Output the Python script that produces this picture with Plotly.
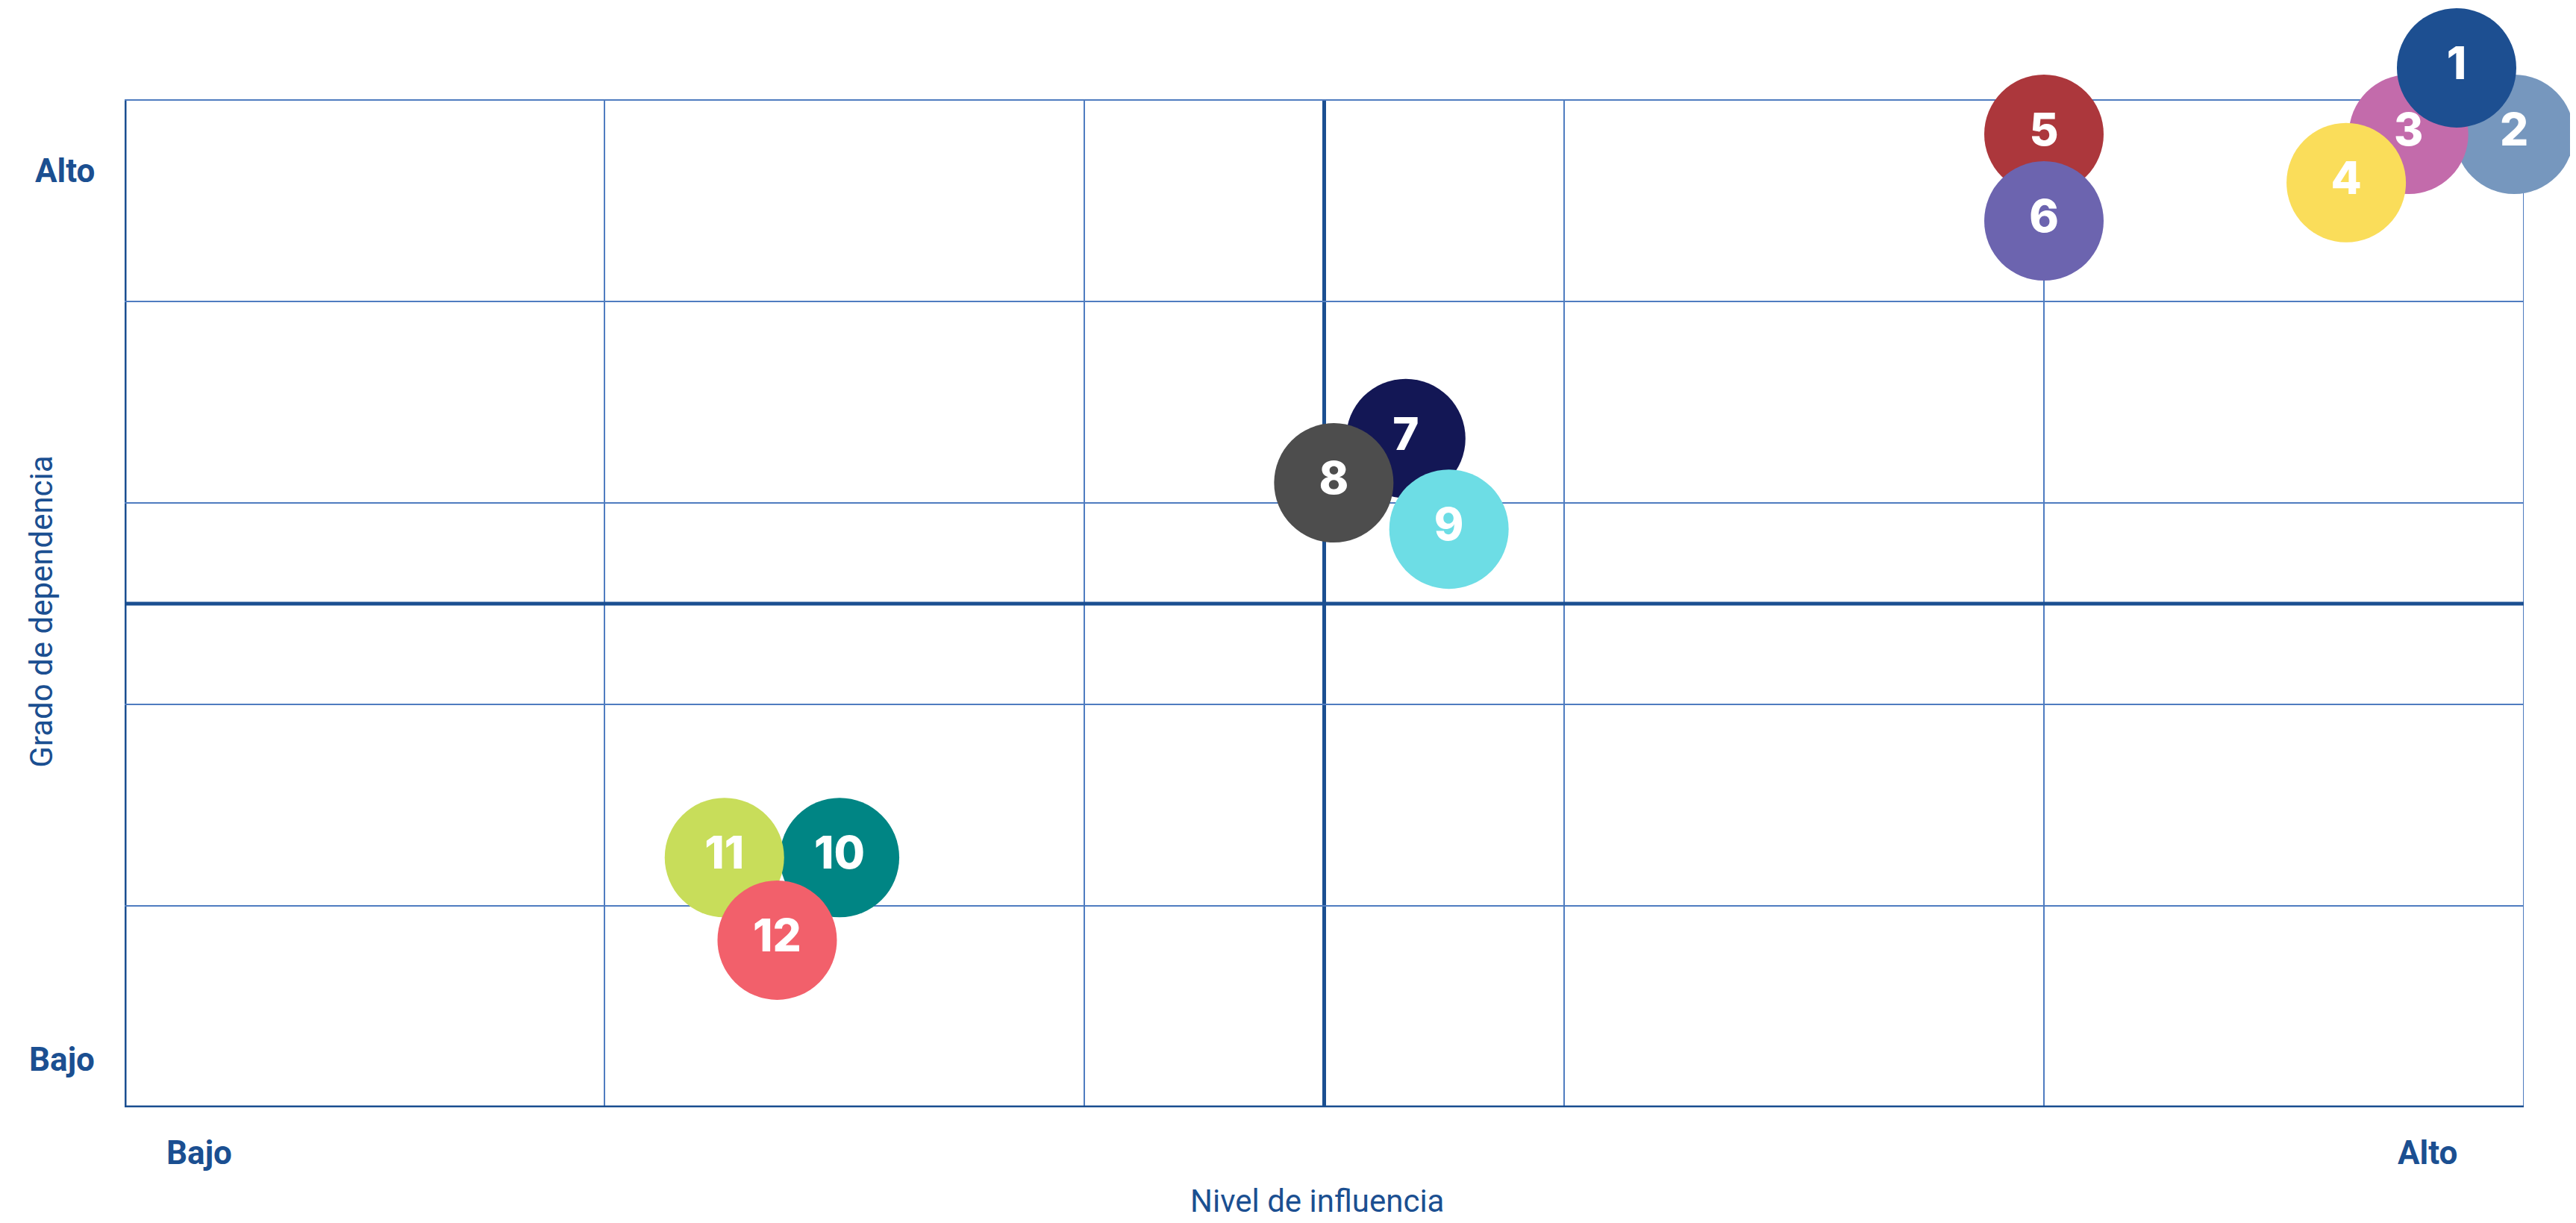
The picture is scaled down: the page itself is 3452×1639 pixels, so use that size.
import plotly.graph_objects as go

# Data
ids = ["1", "2", "3", "4", "5", "6", "7", "8", "9", "10", "11", "12"]
influence = [4.86, 4.98, 4.76, 4.63, 4.00, 4.00, 2.67, 2.52, 2.76, 1.49, 1.25, 1.36]
dependence = [5.16, 4.83, 4.83, 4.59, 4.83, 4.40, 3.32, 3.10, 2.87, 1.24, 1.24, 0.83]
colors = ["#1D4F91", "#7697BE", "#C36BAB", "#FADD5A", "#AC373C", "#6C64AF",
          "#131755", "#4D4D4D", "#6DDDE5", "#008584", "#C8DD5A", "#F2606B"]
draw_order = [1, 2, 3, 0, 4, 5, 6, 7, 8, 9, 10, 11]

grid_vals = [1, 2, 3, 4, 5]
quadrant_mid = 2.5
x_tick_vals = [0.156, 4.80]
y_tick_vals = [0.236, 4.65]
tick_labels = ["Bajo", "Alto"]
x_title = "Nivel de influencia"
y_title = "Grado de dependencia"

BLUE = "#1B4F91"
GRID = "#4F7CC0"

fig = go.Figure()
for i in draw_order:
    fig.add_trace(go.Scatter(
        x=[influence[i]], y=[dependence[i]], mode="markers+text",
        text=[ids[i]], textposition="middle center",
        textfont=dict(family="Inter", size=60, color="white", weight=800),
        marker=dict(size=160, color=colors[i], line=dict(width=0), opacity=1),
        cliponaxis=False, showlegend=False, hoverinfo="skip"))

shapes = []
# vertical grid lines, stopping at the top grid line (y = 5)
for v in grid_vals:
    shapes.append(dict(type="line", xref="x", yref="y", x0=v, x1=v, y0=0, y1=5,
                       layer="below", line=dict(color=GRID, width=2)))
shapes += [
    dict(type="line", xref="x", yref="y", x0=0, x1=0, y0=0, y1=5, layer="below",
         line=dict(color=BLUE, width=5)),
    dict(type="line", xref="x", yref="y", x0=0, x1=5, y0=0, y1=0, layer="below",
         line=dict(color=BLUE, width=5)),
    dict(type="line", xref="x", yref="y", x0=quadrant_mid, x1=quadrant_mid, y0=0, y1=5,
         layer="below", line=dict(color=BLUE, width=5)),
    dict(type="line", xref="x", yref="y", x0=0, x1=5, y0=quadrant_mid, y1=quadrant_mid,
         layer="below", line=dict(color=BLUE, width=5)),
]

ann = []
lab_font = dict(family="Roboto", size=44, color=BLUE, weight=700)
for v, t in zip(y_tick_vals, tick_labels):
    ann.append(dict(x=0, xref="paper", y=v, yref="y", text=t, showarrow=False,
                    xanchor="right", yanchor="middle", xshift=-38, font=lab_font))
for v, t in zip(x_tick_vals, tick_labels):
    ann.append(dict(x=v, xref="x", y=0, yref="y", text=t, showarrow=False,
                    xanchor="center", yanchor="middle", yshift=-61, font=lab_font))
ann.append(dict(x=0.497, xref="x domain", y=0, yref="y", text=x_title, showarrow=False,
                xanchor="center", yanchor="middle", yshift=-125,
                font=dict(family="Roboto", size=42, color=BLUE)))
ann.append(dict(x=0, xref="paper", y=2.46, yref="y", text=y_title, showarrow=False,
                xanchor="center", yanchor="middle", xshift=-111, textangle=-90,
                font=dict(family="Roboto", size=42, color=BLUE)))

fig.update_layout(
    width=3444, height=1631,
    margin=dict(l=159, r=70, t=0, b=155),
    paper_bgcolor="white", plot_bgcolor="white",
    xaxis=dict(range=[0, 5], showgrid=False,
               zeroline=False, showline=False, showticklabels=False, fixedrange=True),
    yaxis=dict(range=[0, 5.467], tickvals=grid_vals, showgrid=True, gridcolor=GRID, gridwidth=2,
               zeroline=False, showline=False, showticklabels=False, fixedrange=True),
    shapes=shapes, annotations=ann,
)
fig.write_html("out.html")
